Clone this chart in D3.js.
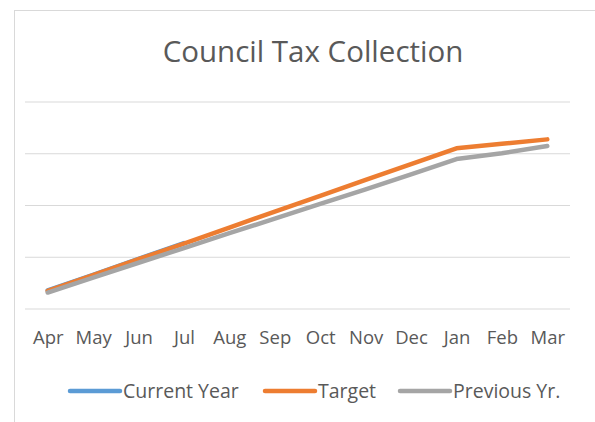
<!DOCTYPE html>
<html>
<head>
<meta charset="utf-8">
<script src="https://cdn.jsdelivr.net/npm/d3@7"></script>
<style>
  body { margin: 0; background: #fff; }
  svg { display: block; font-family: "Open Sans", "Noto Sans", sans-serif; }
</style>
</head>
<body>
<svg id="chart" width="595" height="422"></svg>
<script>
var months = ["Apr", "May", "Jun", "Jul", "Aug", "Sep", "Oct", "Nov", "Dec", "Jan", "Feb", "Mar"]
var currentYear = [8.7, 16.3, 24.0, 31.6]
var target = [8.5, 16.1, 23.8, 31.4, 39.1, 46.8, 54.4, 62.1, 69.7, 77.4, 79.6, 81.7]
var previousYr = [7.7, 14.9, 22.1, 29.2, 36.4, 43.4, 50.5, 57.6, 64.8, 72.2, 75.0, 78.5]
var gridTicks = [0, 25, 50, 75, 100]

var seriesNames = ["Current Year", "Target", "Previous Yr."]
var seriesColors = ["#5B9BD5", "#ED7D31", "#A5A5A5"]

var svg = d3.select("#chart")

// chart area border (runs off the right / bottom edge of the crop)
svg.append("rect")
  .attr("x", 14.5).attr("y", 10.5)
  .attr("width", 640).attr("height", 440)
  .attr("fill", "#fff")
  .attr("stroke", "#D9D9D9")

var plotLeft = 25, plotRight = 570, plotTop = 101.5, plotBottom = 308.5

var x = d3.scalePoint()
  .domain(months)
  .range([plotLeft, plotRight])
  .padding(0.5)

var y = d3.scaleLinear()
  .domain([0, 100])
  .range([plotBottom, plotTop])

// gridlines
var grid = svg.append("g")
  .attr("transform", "translate(" + plotLeft + ",0)")
  .call(d3.axisLeft(y).tickValues(gridTicks).tickSize(-(plotRight - plotLeft)).tickFormat(""))
grid.select(".domain").remove()
grid.selectAll(".tick line").attr("stroke", "#D9D9D9").attr("stroke-width", 1)

// month labels
var xAxis = svg.append("g")
  .attr("transform", "translate(0," + plotBottom + ")")
  .call(d3.axisBottom(x).tickSize(0).tickPadding(22))
xAxis.select(".domain").remove()
xAxis.selectAll("text")
  .attr("fill", "#595959")
  .style("font-size", "18.5px")
  .style("font-family", "'Open Sans', sans-serif")

// title
svg.append("text")
  .attr("x", 313).attr("y", 62)
  .attr("text-anchor", "middle")
  .attr("fill", "#595959")
  .style("font-size", "29.5px")
  .text("Council Tax Collection")

var line = d3.line()
  .x((d, i) => x(months[i]))
  .y(d => y(d))

var allSeries = [currentYear, target, previousYr]
svg.append("g").selectAll("path")
  .data(allSeries)
  .enter()
  .append("path")
    .attr("d", d => line(d))
    .attr("fill", "none")
    .attr("stroke", (d, i) => seriesColors[i])
    .attr("stroke-width", 4.5)
    .attr("stroke-linecap", "round")
    .attr("stroke-linejoin", "round")

// legend
var legendX = [70, 265, 400]
var legend = svg.append("g").selectAll("g")
  .data(seriesNames)
  .enter()
  .append("g")
    .attr("transform", (d, i) => "translate(" + legendX[i] + ",391)")
legend.append("line")
  .attr("x1", 0).attr("x2", 50)
  .attr("stroke", (d, i) => seriesColors[i])
  .attr("stroke-width", 4.5)
  .attr("stroke-linecap", "round")
legend.append("text")
  .attr("x", 53).attr("y", 7)
  .attr("fill", "#595959")
  .style("font-size", "19.5px")
  .text(d => d)
</script>
</body>
</html>
